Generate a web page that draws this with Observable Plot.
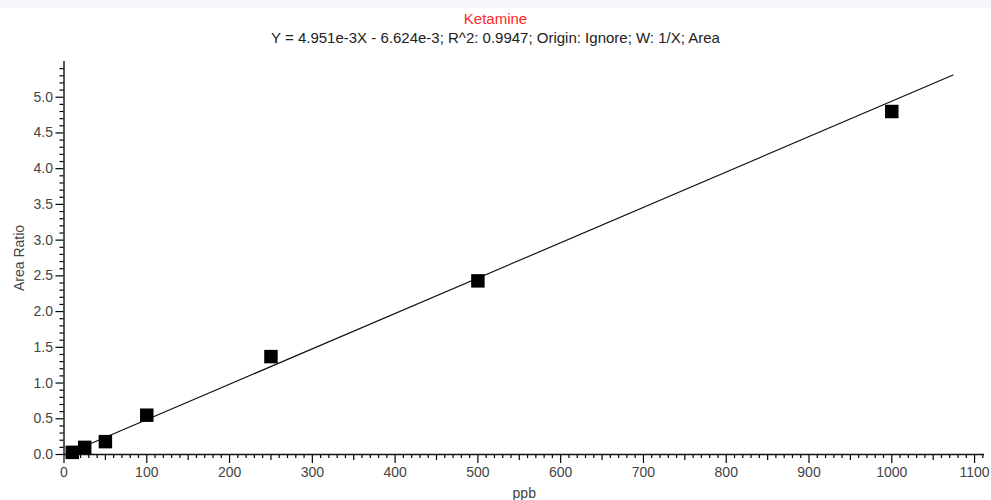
<!DOCTYPE html>
<html>
<head>
<meta charset="utf-8">
<script src="https://cdn.jsdelivr.net/npm/d3@7"></script>
<script src="https://cdn.jsdelivr.net/npm/@observablehq/plot@0.6"></script>
<style>
  html, body { margin: 0; padding: 0; background: #fff; }
  body { width: 991px; height: 500px; overflow: hidden; font-family: "Liberation Sans", Arial, sans-serif; }
  #band { position: absolute; left: 0; top: 0; width: 991px; height: 8px; background: #f4f6f9; }
  #title { position: absolute; left: 0; width: 991px; top: 10px; text-align: center; color: #ff2a2a; font-size: 15px; line-height: 17px; }
  #subtitle { position: absolute; left: 0; width: 991px; top: 29px; text-align: center; color: #222; font-size: 15px; line-height: 17px; }
  #chart { position: absolute; left: 0; top: 50px; }
</style>
</head>
<body>
<div id="band"></div>
<div id="title">Ketamine</div>
<div id="subtitle">Y = 4.951e-3X - 6.624e-3; R^2: 0.9947; Origin: Ignore; W: 1/X; Area</div>
<div id="chart"></div>
<script>
// Calibration standards (ppb) and measured area ratios
const concentrations = [10, 25, 50, 100, 250, 500, 1000];
const areaRatios = [0.03, 0.10, 0.18, 0.55, 1.37, 2.43, 4.80];

// Regression fit from the subtitle
const slope = 4.951e-3;
const intercept = -6.624e-3;
const fitRange = [5, 1074];

const xMajor = d3.range(0, 1101, 100);
const xMedium = d3.range(50, 1101, 100);
const xMinor = d3.range(0, 1111, 10).filter(v => v % 50 !== 0);
const yMajor = d3.range(0, 5.01, 0.5).map(v => +v.toFixed(1));
const yMinor = d3.range(0, 5.5, 0.1).map(v => +v.toFixed(1)).filter(v => Math.round(v * 10) % 5 !== 0);

const points = concentrations.map((x, i) => ({x, y: areaRatios[i]}));
const fit = fitRange.map(x => ({x, y: slope * x + intercept}));

const chart = Plot.plot({
  width: 991,
  height: 450,
  marginLeft: 63.5,
  marginRight: 7,
  marginTop: 11,
  marginBottom: 46,
  style: { fontFamily: "Liberation Sans, Arial, sans-serif", fontSize: "14px", color: "#444", background: "transparent" },
  x: { domain: [0, 1112] },
  y: { domain: [0, 5.5] },
  marks: [
    Plot.axisX({ ticks: xMinor, tickSize: 4, tickFormat: () => "", label: null, stroke: "#000", strokeWidth: 1.2 }),
    Plot.axisX({ ticks: xMedium, tickSize: 6, tickFormat: () => "", label: null, stroke: "#000", strokeWidth: 1.2 }),
    Plot.axisX({ ticks: xMajor, tickSize: 9, tickPadding: 4, tickFormat: d => String(d), fontSize: 14, label: "ppb", labelAnchor: "center", labelOffset: 43, labelArrow: "none", stroke: "#000", strokeWidth: 1.2, fill: "#444" }),
    Plot.axisY({ ticks: yMinor, tickSize: 4, tickFormat: () => "", label: null, stroke: "#000", strokeWidth: 1.2 }),
    Plot.axisY({ ticks: yMajor, tickSize: 8, tickPadding: 3, tickFormat: d => d.toFixed(1), fontSize: 14, label: "Area Ratio", labelAnchor: "center", labelOffset: 50, labelArrow: "none", stroke: "#000", strokeWidth: 1.2, fill: "#444" }),
    Plot.ruleY([0], { stroke: "#111", strokeWidth: 1.4 }),
    Plot.ruleX([0], { stroke: "#111", strokeWidth: 1.4 }),
    Plot.line(fit, { x: "x", y: "y", stroke: "#111", strokeWidth: 1.2, clip: true }),
    Plot.dot(points, { x: "x", y: "y", symbol: "square", r: 7.6, fill: "#000", stroke: "none" })
  ]
});
document.getElementById("chart").appendChild(chart);
</script>
</body>
</html>
